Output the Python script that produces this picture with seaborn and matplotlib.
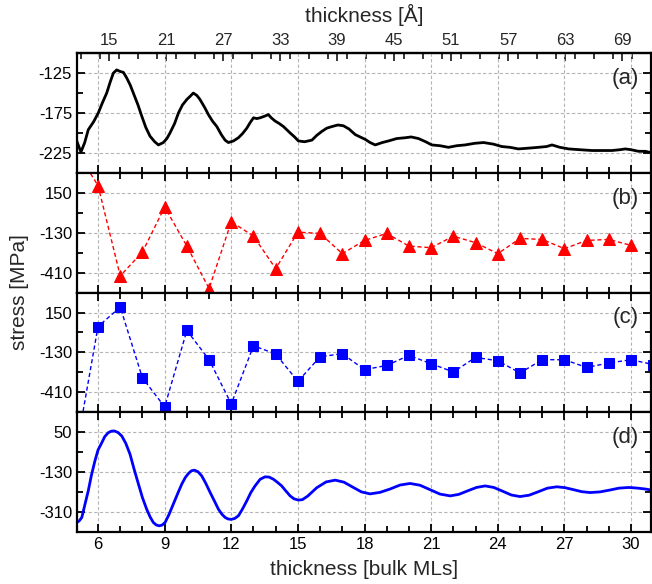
import matplotlib
matplotlib.use("Agg")
import matplotlib.pyplot as plt
import seaborn as sns
import numpy as np
import pandas as pd
from matplotlib.ticker import FixedLocator, MultipleLocator

ml_a = [5.04, 5.23, 5.4, 5.56, 5.8, 6.01, 6.2, 6.39, 6.55, 6.69, 6.84, 7.0, 7.14,
        7.29, 7.45, 7.59, 7.8, 7.97, 8.15, 8.34, 8.55, 8.72, 8.94, 9.1, 9.24,
        9.45, 9.62, 9.8, 10.0, 10.15, 10.29, 10.45, 10.59, 10.8, 10.97, 11.15,
        11.35, 11.55, 11.72, 11.87, 12.1, 12.32, 12.5, 12.70, 12.85, 13.0, 13.15,
        13.3, 13.5, 13.67, 13.8, 13.97, 14.15, 14.35, 14.5, 14.65, 14.85, 15.02,
        15.3, 15.63, 15.85, 16.08, 16.3, 16.53, 16.8, 17.05, 17.3, 17.58, 17.8,
        18.03, 18.25, 18.48, 18.8, 19.08, 19.45, 19.83, 20.1, 20.43, 20.75,
        21.03, 21.4, 21.78, 22.15, 22.53, 22.95, 23.36, 23.8, 24.18, 24.55,
        24.93, 25.4, 25.83, 26.2, 26.44, 26.8, 27.19, 27.7, 28.24, 28.7, 29.14,
        29.5, 29.74, 30.0, 30.34, 30.65, 30.94]
stress_a = [-210, -224, -212, -196, -186, -175, -162, -150, -136, -125, -121, -123,
            -124, -131, -140, -150, -165, -179, -193, -204, -211, -215, -212, -207,
            -200, -188, -175, -165, -158, -154, -150, -153, -158, -168, -177, -185,
            -192, -202, -209, -212, -210, -206, -201, -194, -187, -181, -182,
            -181, -179, -177, -181, -185, -188, -192, -196, -200, -205, -210,
            -211, -209, -203, -198, -194, -192, -190, -191, -195, -202, -205,
            -208, -212, -215, -212, -210, -207, -206, -205, -207, -211,
            -215, -216, -218, -216, -215, -213, -212, -214, -217, -218,
            -220, -219, -218, -217, -215, -218, -220, -221, -222, -222, -222,
            -221, -220, -221, -223, -223, -225]

# (b) triangles
ml_b = list(range(5, 31))
stress_b = [450, 201, -433, -265, 50, -224, -522, -53, -154, -382, -126, -135,
            -277, -184, -135, -224, -235, -154, -200, -277, -170, -177, -242,
            -184, -177, -219]

# (c) squares
ml_c = list(range(5, 32))
stress_c = [-830, 52, 188, -309, -512, 24, -181, -491, -83, -141, -333, -160,
            -139, -251, -221, -151, -209, -267, -165, -188, -274, -181, -181,
            -235, -204, -181, -215]

# (d) model curve
ml_d = [5.04, 5.15, 5.27, 5.4, 5.56, 5.7, 5.86, 6.0, 6.17, 6.3, 6.46, 6.6, 6.73,
        6.9, 7.07, 7.25, 7.44, 7.62, 7.82, 8.0, 8.19, 8.35, 8.49, 8.62, 8.75,
        8.88, 9.02, 9.2, 9.39, 9.58, 9.77, 9.93, 10.07, 10.2, 10.34, 10.5, 10.67,
        10.85, 11.05, 11.25, 11.42, 11.58, 11.72, 11.85, 11.99, 12.15, 12.32,
        12.5, 12.70, 12.88, 13.07, 13.3, 13.52, 13.7, 13.90, 14.08, 14.27, 14.45,
        14.65, 14.82, 15.02, 15.2, 15.44, 15.85, 16.27, 16.68, 17.07, 17.46,
        17.86, 18.25, 18.7, 19.15, 19.6, 20.05, 20.5, 20.95, 21.4, 21.86, 22.25,
        22.65, 23.04, 23.43, 23.82, 24.22, 24.61, 25.0, 25.41, 25.83, 26.24,
        26.66, 27.03, 27.41, 27.78, 28.16, 28.6, 29.03, 29.46, 29.9, 30.3,
        30.64, 30.94]
stress_d = [-357, -350, -334, -280, -214, -145, -79, -30, 3, 30, 48, 55, 56,
            49, 33, 0, -49, -115, -184, -245, -297, -333, -357, -368, -372,
            -369, -357, -320, -274, -228, -184, -154, -136, -124, -121, -128, -147,
            -180, -222, -262, -297, -320, -334, -341, -343, -339, -327,
            -297, -259, -222, -192, -162, -151, -152, -162, -176, -192, -214,
            -237, -250, -256, -254, -238, -200, -174, -166, -175, -197,
            -219, -228, -221, -206, -188, -181, -189, -209, -229, -237, -230,
            -214, -199, -192, -199, -216, -233, -240, -234, -218, -202,
            -196, -200, -209, -218, -222, -219, -211, -202, -199, -202,
            -206, -211]

panel_labels = ["(a)", "(b)", "(c)", "(d)"]
yticks = [[-125, -175, -225], [150, -130, -410], [150, -130, -410], [50, -130, -310]]
yminor = [[-150, -200], [10, -270], [10, -270], [-40, -220]]
ylims = [(-250, -100), (-550, 290), (-550, 290), (-400, 140)]
top_ticks = [15, 21, 27, 33, 39, 45, 51, 57, 63, 69]

sns.set_style("white")
plt.rcParams['font.family'] = ['Liberation Sans', 'DejaVu Sans']
plt.rcParams['axes.unicode_minus'] = False

fig, axes = plt.subplots(4, 1, figsize=(6.52, 5.84), dpi=100, sharex=True)
fig.subplots_adjust(left=0.118, right=0.9985, top=0.909, bottom=0.089, hspace=0)

sns.lineplot(x=ml_a, y=stress_a, ax=axes[0], color='black', lw=2, sort=False)
sns.lineplot(x=ml_b, y=stress_b, ax=axes[1], color='red', lw=1, ls=(0, (3, 2)),
             marker='^', markersize=9, markeredgecolor='red', sort=False)
sns.lineplot(x=ml_c, y=stress_c, ax=axes[2], color='blue', lw=1, ls=(0, (3, 2)),
             marker='s', markersize=7, markeredgecolor='blue', sort=False)
sns.lineplot(x=ml_d, y=stress_d, ax=axes[3], color='blue', lw=2, sort=False)

for i, ax in enumerate(axes):
    ax.set_xlim(5.05, 30.9)
    ax.set_ylim(*ylims[i])
    ax.xaxis.set_major_locator(MultipleLocator(3))
    ax.xaxis.set_minor_locator(MultipleLocator(1))
    ax.yaxis.set_major_locator(FixedLocator(yticks[i]))
    ax.yaxis.set_minor_locator(FixedLocator(yminor[i]))
    ax.grid(True, which='major', ls=(0, (3, 2)), color='#b4b4b4', lw=0.8)
    ax.tick_params(which='both', direction='in', left=True, right=True,
                   bottom=True, top=(i > 0), labelbottom=(i == 3),
                   labelsize=12, width=1.3, colors='black')
    ax.tick_params(which='major', length=6)
    ax.tick_params(which='minor', length=4)
    for s in ax.spines.values():
        s.set_linewidth(1.6)
        s.set_color('black')
    ax.set_ylabel('')
    ax.text(0.955, 0.79, panel_labels[i], transform=ax.transAxes,
            ha='center', va='center', fontsize=16)

axes[3].set_xlabel('thickness [bulk MLs]', fontsize=15, labelpad=6)
fig.text(0.03, 0.5, 'stress [MPa]', rotation=90, ha='center', va='center', fontsize=15)

top = axes[0].secondary_xaxis('top', functions=(lambda m: 2.337 * m - 0.178,
                                                 lambda a: (a + 0.178) / 2.337))
top.xaxis.set_major_locator(FixedLocator(top_ticks))
top.xaxis.set_minor_locator(MultipleLocator(2))
top.tick_params(which='both', direction='in', labelsize=12, width=1.3)
top.tick_params(which='major', length=6)
top.tick_params(which='minor', length=4)
top.spines['top'].set_linewidth(1.6)
top.set_xlabel('thickness [Å]', fontsize=15, labelpad=8)

fig.savefig('out.png', dpi=100)
